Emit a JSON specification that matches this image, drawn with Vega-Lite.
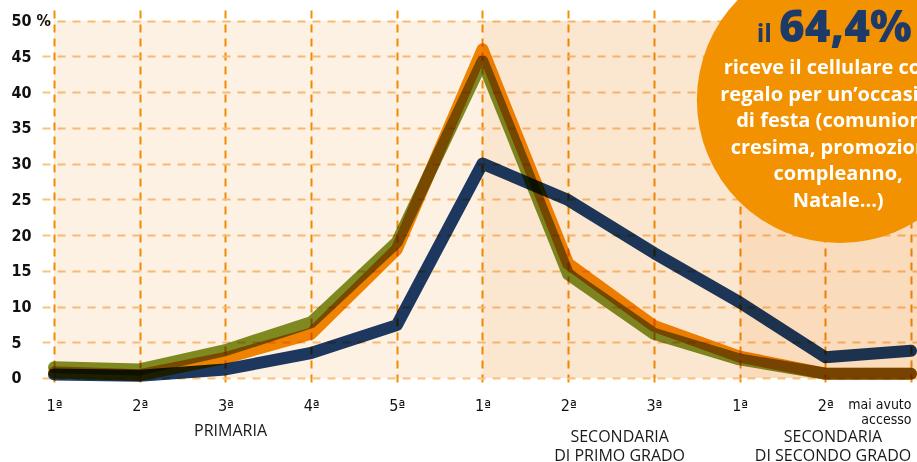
{
  "$schema": "https://vega.github.io/schema/vega-lite/v6.json",
  "width": 875,
  "height": 378,
  "autosize": {"type": "none"},
  "padding": {"left": 42, "top": 10, "right": 0, "bottom": 74},
  "background": "white",
  "config": {
    "view": {"stroke": null},
    "axisY": {"labelOverlap": false, "labelSeparation": 0, "labelBound": false, "labelFlush": false, "tickCount": 11},
    "axisX": {"labelOverlap": false, "labelBound": false, "labelFlush": false}
  },
  "datasets": {
    "serie": [
      {"classe": 1, "gruppo": "serie A", "pct": 0.8},
      {"classe": 2, "gruppo": "serie A", "pct": 0.4},
      {"classe": 3, "gruppo": "serie A", "pct": 2.8},
      {"classe": 4, "gruppo": "serie A", "pct": 6.2},
      {"classe": 5, "gruppo": "serie A", "pct": 18.0},
      {"classe": 6, "gruppo": "serie A", "pct": 46.0},
      {"classe": 7, "gruppo": "serie A", "pct": 16.0},
      {"classe": 8, "gruppo": "serie A", "pct": 7.3},
      {"classe": 9, "gruppo": "serie A", "pct": 3.0},
      {"classe": 10, "gruppo": "serie A", "pct": 0.6},
      {"classe": 11, "gruppo": "serie A", "pct": 0.6},
      {"classe": 1, "gruppo": "serie B", "pct": 1.5},
      {"classe": 2, "gruppo": "serie B", "pct": 1.2},
      {"classe": 3, "gruppo": "serie B", "pct": 3.9},
      {"classe": 4, "gruppo": "serie B", "pct": 7.8},
      {"classe": 5, "gruppo": "serie B", "pct": 19.0},
      {"classe": 6, "gruppo": "serie B", "pct": 44.3},
      {"classe": 7, "gruppo": "serie B", "pct": 14.5},
      {"classe": 8, "gruppo": "serie B", "pct": 6.2},
      {"classe": 9, "gruppo": "serie B", "pct": 2.6},
      {"classe": 10, "gruppo": "serie B", "pct": 0.6},
      {"classe": 11, "gruppo": "serie B", "pct": 0.6},
      {"classe": 1, "gruppo": "serie C", "pct": 0.5},
      {"classe": 2, "gruppo": "serie C", "pct": 0.3},
      {"classe": 3, "gruppo": "serie C", "pct": 1.2},
      {"classe": 4, "gruppo": "serie C", "pct": 3.5},
      {"classe": 5, "gruppo": "serie C", "pct": 7.4},
      {"classe": 6, "gruppo": "serie C", "pct": 30.0},
      {"classe": 7, "gruppo": "serie C", "pct": 24.9},
      {"classe": 8, "gruppo": "serie C", "pct": 17.5},
      {"classe": 9, "gruppo": "serie C", "pct": 10.6},
      {"classe": 10, "gruppo": "serie C", "pct": 2.9},
      {"classe": 11, "gruppo": "serie C", "pct": 3.8}
    ],
    "fasce": [
      {"fascia": "primaria", "da": 1, "a": 6},
      {"fascia": "primo grado", "da": 6, "a": 9},
      {"fascia": "secondo grado", "da": 9, "a": 11.07}
    ],
    "uno": [{}]
  },
  "layer": [
    {
      "data": {"name": "fasce"},
      "mark": {"type": "rect", "blend": "multiply"},
      "encoding": {
        "x": {"field": "da", "type": "quantitative", "title": null},
        "x2": {"field": "a"},
        "y": {"datum": 0, "type": "quantitative", "title": null},
        "y2": {"datum": 50},
        "fill": {
          "field": "fascia",
          "type": "nominal",
          "scale": {"domain": ["primaria", "primo grado", "secondo grado"], "range": ["#fdf1e3", "#fbe7d0", "#fadcbc"]},
          "legend": null
        }
      }
    },
    {
      "data": {"name": "serie"},
      "mark": {"type": "line", "strokeWidth": 12, "strokeCap": "round", "strokeJoin": "round", "blend": "multiply"},
      "encoding": {
        "x": {
          "field": "classe",
          "type": "quantitative",
          "title": null,
          "scale": {"domain": [0.86, 11.07], "nice": false, "zero": false},
          "axis": {
            "title": null,
            "values": [1, 2, 3, 4, 5, 6, 7, 8, 9, 10, 11],
            "labelExpr": "datum.value == 11 ? ['mai avuto', 'accesso'] : (datum.value <= 5 ? datum.value : (datum.value <= 8 ? datum.value - 5 : datum.value - 8)) + 'ª'",
            "domain": false,
            "ticks": false,
            "tickSize": 0,
            "labelPadding": 9,
            "labelBaseline": "top",
            "labelAlign": {"condition": {"test": "datum.value == 11", "value": "right"}, "value": "center"},
            "labelFontSize": {"condition": {"test": "datum.value == 11", "value": 14}, "value": 16},
            "labelFont": "DejaVu Sans Condensed, sans-serif",
            "labelColor": "#111111",
            "labelLineHeight": 15,
            "labelFlush": false,
            "labelOverlap": false,
            "labelBound": false,
            "grid": true,
            "gridColor": "#f39200",
            "gridDash": [8, 6],
            "gridWidth": 2
          }
        },
        "y": {
          "field": "pct",
          "type": "quantitative",
          "title": null,
          "scale": {"domain": [-1.4, 51.5], "nice": false, "zero": false},
          "axis": {
            "title": null,
            "values": [0, 5, 10, 15, 20, 25, 30, 35, 40, 45, 50],
            "tickCount": 11,
            "labelExpr": "datum.value == 50 ? '50 %' : datum.label",
            "domain": false,
            "ticks": false,
            "tickSize": 0,
            "labelPadding": 31,
            "labelAlign": "left",
            "labelBaseline": "middle",
            "labelFont": "DejaVu Sans Condensed, sans-serif",
            "labelFontWeight": "bold",
            "labelFontSize": 16,
            "labelColor": "#111111",
            "labelOverlap": false,
            "labelBound": false,
            "labelFlush": false,
            "grid": true,
            "gridColor": "#fbc47e",
            "gridDash": [8, 7],
            "gridWidth": 2
          }
        },
        "color": {
          "field": "gruppo",
          "type": "nominal",
          "scale": {"domain": ["serie A", "serie B", "serie C"], "range": ["#f18a00", "#7f9124", "#1d3a69"]},
          "legend": null
        }
      }
    },
    {
      "data": {"name": "uno"},
      "mark": {"type": "circle", "size": 81796, "color": "#f39200", "opacity": 1},
      "encoding": {
        "x": {"datum": 10.17, "type": "quantitative", "title": null},
        "y": {"datum": 38.9, "type": "quantitative", "title": null}
      }
    },
    {
      "data": {"name": "uno"},
      "mark": {"type": "text", "text": "il", "align": "left", "baseline": "alphabetic", "font": "Open Sans", "fontWeight": "bold", "fontSize": 25, "color": "#1d3a69"},
      "encoding": {
        "x": {"datum": 9.2, "type": "quantitative", "title": null},
        "y": {"datum": 47.0, "type": "quantitative", "title": null}
      }
    },
    {
      "data": {"name": "uno"},
      "mark": {"type": "text", "text": "64,4%", "align": "left", "baseline": "alphabetic", "font": "Open Sans", "fontWeight": 800, "fontSize": 44, "color": "#1d3a69"},
      "encoding": {
        "x": {"datum": 9.46, "type": "quantitative", "title": null},
        "y": {"datum": 47.0, "type": "quantitative", "title": null}
      }
    },
    {
      "data": {"name": "uno"},
      "mark": {
        "type": "text",
        "text": ["riceve il cellulare come", "regalo per un’occasione", "di festa (comunione,", "cresima, promozione,", "compleanno,", "Natale...)"],
        "align": "center",
        "baseline": "alphabetic",
        "font": "Open Sans",
        "fontWeight": "bold",
        "fontSize": 20,
        "lineHeight": 26.5,
        "color": "white"
      },
      "encoding": {
        "x": {"datum": 10.15, "type": "quantitative", "title": null},
        "y": {"datum": 42.54, "type": "quantitative", "title": null}
      }
    },
    {
      "data": {"name": "uno"},
      "mark": {"type": "text", "text": "PRIMARIA", "align": "center", "baseline": "alphabetic", "font": "Open Sans", "fontSize": 16, "color": "#1a1a1a"},
      "encoding": {
        "x": {"datum": 3.06, "type": "quantitative", "title": null},
        "y": {"datum": -8.12, "type": "quantitative", "title": null}
      }
    },
    {
      "data": {"name": "uno"},
      "mark": {"type": "text", "text": ["SECONDARIA", "DI PRIMO GRADO"], "align": "center", "baseline": "alphabetic", "font": "Open Sans", "fontSize": 16, "lineHeight": 19, "color": "#1a1a1a"},
      "encoding": {
        "x": {"datum": 7.6, "type": "quantitative", "title": null},
        "y": {"datum": -9.0, "type": "quantitative", "title": null}
      }
    },
    {
      "data": {"name": "uno"},
      "mark": {"type": "text", "text": ["SECONDARIA", "DI SECONDO GRADO"], "align": "center", "baseline": "alphabetic", "font": "Open Sans", "fontSize": 16, "lineHeight": 19, "color": "#1a1a1a"},
      "encoding": {
        "x": {"datum": 10.09, "type": "quantitative", "title": null},
        "y": {"datum": -9.0, "type": "quantitative", "title": null}
      }
    }
  ]
}
